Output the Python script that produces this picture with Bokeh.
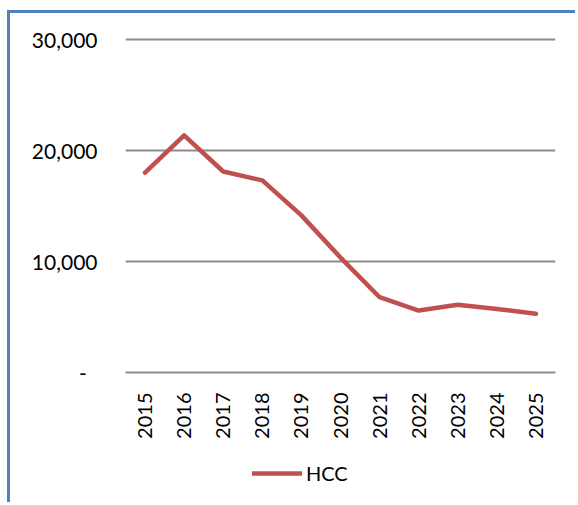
import math
from bokeh.plotting import figure
from bokeh.layouts import column
from bokeh.models import FactorRange, Range1d, FixedTicker, Legend, LegendItem
from bokeh.embed import file_html
from bokeh.resources import INLINE

years = ["2015", "2016", "2017", "2018", "2019", "2020", "2021", "2022", "2023", "2024", "2025"]
hcc = [18000, 21350, 18100, 17300, 14150, 10350, 6780, 5580, 6100, 5720, 5290]
y_ticks = [0, 10000, 20000, 30000]
y_tick_labels = ["-\u00a0\u00a0", "10,000", "20,000", "30,000"]
series_name = "HCC"

FONT = "Lato"
GRAY = "#8c8c8c"
RED = "#c0504d"
BLUE = "3px solid #4f81bd"

xr = FactorRange(*years, range_padding=0)

# main chart
p = figure(width=568, height=437, x_range=xr,
           y_range=Range1d(0, 30800), output_backend="svg", toolbar_location=None,
           min_border_left=115, min_border_right=23, min_border_top=17, min_border_bottom=78)
p.margin = (10, 0, 0, 7)
p.styles = {"border-left": BLUE, "border-top": BLUE}
p.outline_line_color = None
p.border_fill_color = "white"

p.line(x=years, y=hcc, line_color=RED, line_width=4.5, line_join="round", line_cap="round")

p.xgrid.grid_line_color = None
p.ygrid.grid_line_color = GRAY
p.ygrid.grid_line_width = 2
p.yaxis.ticker = FixedTicker(ticks=y_ticks)
p.yaxis.major_label_overrides = dict(zip(y_ticks, y_tick_labels))
p.yaxis.axis_line_color = None
p.yaxis.major_tick_line_color = None
p.yaxis.minor_tick_line_color = None
p.yaxis.major_label_standoff = 22
p.yaxis.major_label_text_font = FONT
p.yaxis.major_label_text_font_size = "21px"
p.yaxis.major_label_text_color = "black"

p.xaxis.axis_line_color = GRAY
p.xaxis.axis_line_width = 2
p.xaxis.major_tick_line_color = None
p.xaxis.minor_tick_line_color = None
p.xaxis.major_label_orientation = math.pi / 2
p.xaxis.major_label_standoff = 14
p.xaxis.major_label_text_font = FONT
p.xaxis.major_label_text_font_size = "20px"
p.xaxis.major_label_text_color = "black"

# legend strip (series drawn off-view so only its legend entry shows)
p2 = figure(width=568, height=55, x_range=xr, y_range=Range1d(-2, -1),
            output_backend="svg", toolbar_location=None,
            x_axis_location=None, y_axis_location=None, min_border=0)
p2.margin = (0, 0, 0, 7)
p2.styles = {"border-left": BLUE}
p2.outline_line_color = None
p2.grid.grid_line_color = None
r2 = p2.line(x=years, y=hcc, line_color=RED, line_width=4.5, line_cap="round")

legend = Legend(items=[LegendItem(label=series_name, renderers=[r2])], location=(127, 17),
                glyph_width=50, glyph_height=20, label_height=20, label_standoff=4,
                padding=0, margin=0, spacing=0, border_line_color=None,
                background_fill_alpha=0, label_text_font=FONT, label_text_font_size="20px",
                label_text_color="black")
p2.add_layout(legend, "center")

layout = column(p, p2, spacing=0)
open("out.html", "w").write(file_html(layout, INLINE))
